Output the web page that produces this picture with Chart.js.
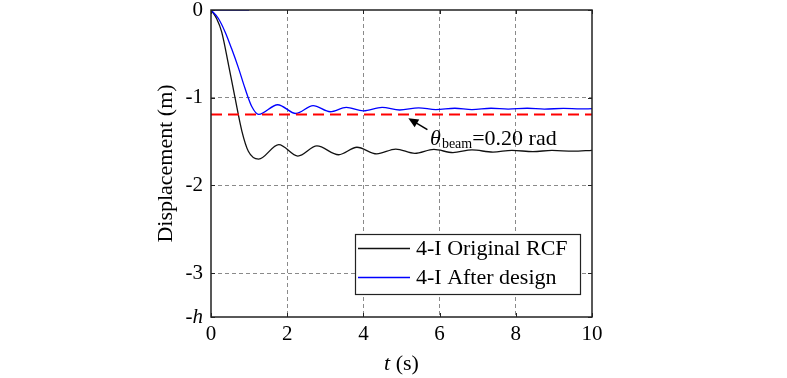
<!DOCTYPE html>
<html><head><meta charset="utf-8">
<script src="https://cdn.jsdelivr.net/npm/chart.js@4.4.1/dist/chart.umd.min.js"></script>
<style>html,body{margin:0;padding:0;background:#fff}#wrap{width:787px;height:378px}</style>
</head><body><div id="wrap"><canvas id="c" width="787" height="378"></canvas></div>
<script>
// ---- data ----
const originalLabel = '4-I Original RCF';
const originalT = [0, 0.15, 0.28, 0.46, 0.63, 0.81, 0.98, 1.25, 1.78, 2.28, 2.78, 3.35, 3.83, 4.35, 4.85, 5.35, 5.85, 6.35, 6.85, 7.4, 7.9, 8.45, 8.95, 9.5, 10];
const originalY = [0, -0.1, -0.25, -0.625, -1.0, -1.38, -1.61, -1.70, -1.535, -1.665, -1.55, -1.65, -1.565, -1.64, -1.585, -1.635, -1.59, -1.625, -1.595, -1.62, -1.60, -1.615, -1.60, -1.61, -1.60];

const afterLabel = '4-I After design';
const afterT = [0, 0.19, 0.37, 0.54, 0.72, 0.89, 1.07, 1.25, 1.75, 2.23, 2.68, 3.13, 3.55, 4.0, 4.49, 4.95, 5.45, 5.9, 6.4, 6.85, 7.35, 7.8, 8.3, 8.75, 9.25, 9.7, 10];
const afterY = [0, -0.094, -0.25, -0.44, -0.66, -0.89, -1.10, -1.19, -1.08, -1.18, -1.09, -1.16, -1.11, -1.15, -1.11, -1.14, -1.115, -1.135, -1.12, -1.135, -1.12, -1.13, -1.12, -1.13, -1.122, -1.128, -1.125];

const topSegT = [0, 1.0];
const topSegY = [0, 0];

const beamLimit = -1.19;           // theta_beam = 0.20 rad
const beamT = [0, 10];

const xTicks = [0, 2, 4, 6, 8, 10];
const yTicks = [0, -1, -2, -3, -3.5];
const yTickLabels = ['0', '-1', '-2', '-3', '-h'];

const annotationText = '=0.20 rad';
const arrowTip = {x: 5.18, y: -1.235};
const arrowTail = {x: 5.68, y: -1.365};
const textAnchor = {x: 5.75, y: -1.54};

// ---- helpers ----
const pts = (t, y) => t.map((v, i) => ({x: v, y: y[i]}));
const SERIF = '"Liberation Serif","Times New Roman",serif';

const decorPlugin = {
  id: 'decor',
  afterDraw(chart) {
    const ctx = chart.ctx, a = chart.chartArea;
    const xs = chart.scales.x, ys = chart.scales.y;
    ctx.save();
    // inward tick marks on all four sides
    ctx.strokeStyle = '#222'; ctx.lineWidth = 1;
    ctx.beginPath();
    xTicks.forEach(v => { const px = Math.round(xs.getPixelForValue(v)) + 0.5;
      ctx.moveTo(px, a.bottom); ctx.lineTo(px, a.bottom - 4);
      ctx.moveTo(px, a.top); ctx.lineTo(px, a.top + 4); });
    yTicks.forEach(v => { const py = Math.round(ys.getPixelForValue(v)) + 0.5;
      ctx.moveTo(a.left, py); ctx.lineTo(a.left + 4, py);
      ctx.moveTo(a.right, py); ctx.lineTo(a.right - 4, py); });
    ctx.stroke();
    // frame
    ctx.strokeStyle = '#222'; ctx.lineWidth = 1.5;
    ctx.strokeRect(a.left, a.top, a.right - a.left, a.bottom - a.top);

    // -h tick label
    ctx.fillStyle = '#000';
    ctx.textBaseline = 'middle';
    const hy = ys.getPixelForValue(-3.5);
    ctx.font = 'italic 21px ' + SERIF;
    const hw = ctx.measureText('h').width;
    ctx.textAlign = 'right';
    ctx.fillText('h', a.left - 8, hy);
    ctx.font = '21px ' + SERIF;
    ctx.fillText('-', a.left - 8 - hw, hy);

    // axis titles
    ctx.save();
    ctx.translate(166, (a.top + a.bottom) / 2);
    ctx.rotate(-Math.PI / 2);
    ctx.textAlign = 'center'; ctx.font = '22px ' + SERIF;
    ctx.fillText('Displacement (m)', 0, 0);
    ctx.restore();
    const cx = (a.left + a.right) / 2;
    ctx.font = 'italic 22px ' + SERIF;
    const tw = ctx.measureText('t').width;
    ctx.font = '22px ' + SERIF;
    const rw = ctx.measureText(' (s)').width;
    const sx = cx - (tw + rw) / 2;
    ctx.textAlign = 'left';
    ctx.font = 'italic 22px ' + SERIF; ctx.fillText('t', sx, 364);
    ctx.font = '22px ' + SERIF; ctx.fillText(' (s)', sx + tw, 364);

    // legend
    const lx = 355, ly = 234, lw = 225, lh = 60;
    ctx.fillStyle = '#fff'; ctx.fillRect(lx, ly, lw, lh);
    ctx.strokeStyle = '#222'; ctx.lineWidth = 1.2; ctx.strokeRect(lx + 0.5, ly + 0.5, lw, lh);
    const items = [[originalLabel, '#111', 248.5], [afterLabel, '#0000ff', 277.5]];
    items.forEach(([lab, col, yy]) => {
      ctx.strokeStyle = col; ctx.lineWidth = 1.3;
      ctx.beginPath(); ctx.moveTo(358, yy); ctx.lineTo(410, yy); ctx.stroke();
      ctx.fillStyle = '#000'; ctx.font = '22px ' + SERIF; ctx.textAlign = 'left'; ctx.textBaseline = 'middle';
      ctx.fillText(lab, 416, yy + 1);
    });

    // annotation arrow
    const tx = xs.getPixelForValue(arrowTip.x), ty = ys.getPixelForValue(arrowTip.y);
    const fx = xs.getPixelForValue(arrowTail.x), fy = ys.getPixelForValue(arrowTail.y);
    const ang = Math.atan2(ty - fy, tx - fx);
    ctx.strokeStyle = '#000'; ctx.fillStyle = '#000'; ctx.lineWidth = 1.5;
    ctx.beginPath(); ctx.moveTo(fx, fy); ctx.lineTo(tx - 6 * Math.cos(ang), ty - 6 * Math.sin(ang)); ctx.stroke();
    ctx.beginPath();
    ctx.moveTo(tx, ty);
    ctx.lineTo(tx - 10 * Math.cos(ang) + 4.5 * Math.sin(ang), ty - 10 * Math.sin(ang) - 4.5 * Math.cos(ang));
    ctx.lineTo(tx - 10 * Math.cos(ang) - 4.5 * Math.sin(ang), ty - 10 * Math.sin(ang) + 4.5 * Math.cos(ang));
    ctx.closePath(); ctx.fill();

    // annotation text
    let ax = xs.getPixelForValue(textAnchor.x), ay = ys.getPixelForValue(textAnchor.y);
    ctx.textBaseline = 'alphabetic'; ctx.textAlign = 'left';
    ctx.font = 'italic 22px ' + SERIF; ctx.fillText('\u03B8', ax, ay);
    ax += ctx.measureText('\u03B8').width + 1;
    ctx.font = '14px ' + SERIF; ctx.fillText('beam', ax, ay + 3);
    ax += ctx.measureText('beam').width;
    ctx.font = '22px ' + SERIF; ctx.fillText(annotationText, ax, ay);
    ctx.restore();
  }
};

new Chart(document.getElementById('c'), {
  type: 'line',
  data: {
    datasets: [
      {label: 'beam', data: pts(beamT, [beamLimit, beamLimit]), borderColor: '#ff0000', borderWidth: 2, borderDash: [11, 6], pointRadius: 0, tension: 0},
      {label: afterLabel, data: pts(afterT, afterY), borderColor: '#0000ff', borderWidth: 1.3, pointRadius: 0, cubicInterpolationMode: 'monotone'},
      {label: originalLabel, data: pts(originalT, originalY), borderColor: '#111', borderWidth: 1.3, pointRadius: 0, cubicInterpolationMode: 'monotone'},
      {label: 'top', data: pts(topSegT, topSegY), borderColor: '#0000ff', borderWidth: 1.3, pointRadius: 0}
    ]
  },
  options: {
    responsive: false, animation: false, devicePixelRatio: 1,
    layout: {padding: {left: 0, top: 10, right: 195, bottom: 0}},
    plugins: {legend: {display: false}, tooltip: {enabled: false}},
    scales: {
      x: {
        type: 'linear', min: 0, max: 10,
        afterBuildTicks: s => { s.ticks = xTicks.map(v => ({value: v})); },
        afterFit: s => { s.height = 61; s.paddingLeft = 0; s.paddingRight = 0; },
        grid: {color: c => (c.tick && (c.tick.value === 0 || c.tick.value === 10)) ? 'rgba(0,0,0,0)' : '#8a8a8a', lineWidth: 1, drawTicks: false},
        border: {display: false, dash: [4, 3]},
        ticks: {color: '#000', font: {family: SERIF, size: 21}, padding: 5, maxRotation: 0, autoSkip: false}
      },
      y: {
        type: 'linear', min: -3.5, max: 0,
        afterBuildTicks: s => { s.ticks = yTicks.map(v => ({value: v})); },
        afterFit: s => { s.width = 211; s.paddingTop = 0; s.paddingBottom = 0; },
        grid: {color: c => (c.tick && (c.tick.value === 0 || c.tick.value === -3.5)) ? 'rgba(0,0,0,0)' : '#8a8a8a', lineWidth: 1, drawTicks: false},
        border: {display: false, dash: [4, 3]},
        ticks: {color: '#000', font: {family: SERIF, size: 21}, padding: 8, autoSkip: false,
          callback: (v, i) => { const l = yTickLabels[yTicks.indexOf(v)]; return l === '-h' ? '' : l; }}
      }
    }
  },
  plugins: [decorPlugin]
});
</script>
</body></html>
